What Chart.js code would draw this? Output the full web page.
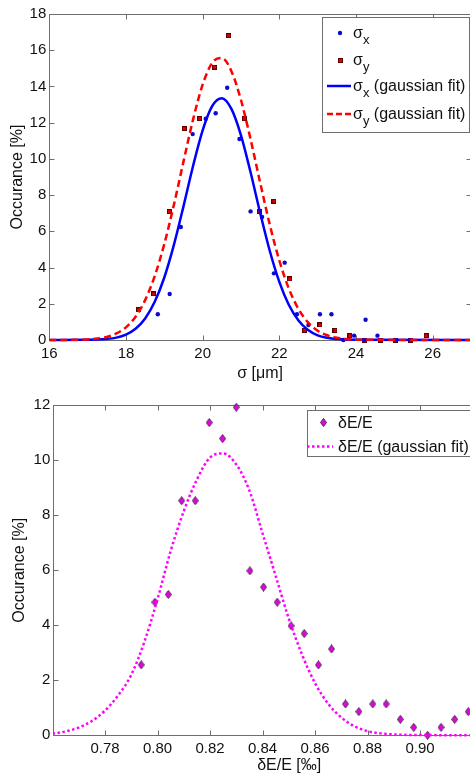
<!DOCTYPE html>
<html lang="fr">
<head>
<meta charset="utf-8">
<title>Distributions σ et δE/E</title>
<script src="https://cdn.jsdelivr.net/npm/chart.js@4.4.1/dist/chart.umd.min.js"></script>
<style>
  html, body { margin: 0; padding: 0; background: #fff; overflow: hidden; }
  #page { position: relative; width: 470px; height: 774px; overflow: hidden; }
  #page canvas { position: absolute; left: 0; }
</style>
</head>
<body>
<div id="page">
  <canvas id="sigmaChart" width="476" height="385" style="top:0"></canvas>
  <canvas id="energieChart" width="530" height="392" style="top:385px"></canvas>
</div>
<script>
// Fichier : index.html
// Distributions des tailles de faisceau (σx, σy) et de la dispersion en énergie δE/E

// --- Graphe du haut : mesures σx ---
const sigmaXPos = [18.83, 19.14, 19.43, 19.74, 20.08, 20.34, 20.64, 20.96, 21.25, 21.55,
                   21.86, 22.14, 22.46, 22.76, 23.06, 23.36, 23.67, 23.95, 24.25, 24.56];
const sigmaXOcc = [1.42, 2.54, 6.24, 11.37, 12.22, 12.52, 13.93, 11.10, 7.10, 6.79,
                   3.68, 4.27, 1.42, 0.83, 1.42, 1.42, 0, 0.24, 1.12, 0.24];

// --- Graphe du haut : mesures σy ---
const sigmaYPos = [18.33, 18.72, 19.13, 19.52, 19.92, 20.31, 20.68, 21.09, 21.48, 21.86,
                   22.27, 22.66, 23.06, 23.45, 23.84, 24.23, 24.63, 25.03, 25.42, 25.83];
const sigmaYOcc = [1.66, 2.54, 7.10, 11.67, 12.22, 15.07, 16.80, 12.22, 7.10, 7.66,
                   3.37, 0.53, 0.83, 0.53, 0.24, 0, 0, 0, 0, 0.24];

// --- Courbes d'ajustement gaussien ---
const fitXPos = [16, 17, 17.5, 17.75, 18, 18.25, 18.5, 18.75, 19, 19.25, 19.5, 19.75, 20, 20.25,
                 20.5, 20.75, 21, 21.25, 21.5, 21.75, 22, 22.25, 22.5, 22.75, 23, 23.25, 23.5, 24, 27];
const fitXOcc = [0, 0.01, 0.06, 0.13, 0.30, 0.62, 1.19, 2.11, 3.45, 5.25, 7.38, 9.61, 11.58, 12.92,
                 13.35, 12.76, 11.30, 9.26, 7.02, 4.93, 3.21, 1.93, 1.08, 0.55, 0.26, 0.12, 0.05, 0.01, 0];

const fitYPos = [16, 17, 17.25, 17.5, 17.75, 18, 18.25, 18.5, 18.75, 19, 19.25, 19.5, 19.75, 20, 20.25,
                 20.5, 20.75, 21, 21.25, 21.5, 21.75, 22, 22.25, 22.5, 22.75, 23, 23.25, 23.5, 23.75, 24, 27];
const fitYOcc = [0, 0.03, 0.08, 0.17, 0.36, 0.70, 1.28, 2.20, 3.53, 5.30, 7.46, 9.85, 12.17, 14.10, 15.31,
                 15.57, 14.84, 13.25, 11.09, 8.69, 6.38, 4.39, 2.83, 1.71, 0.97, 0.51, 0.26, 0.12, 0.05, 0.02, 0];

// --- Graphe du bas : dispersion en énergie ---
const energiePos = [0.7938, 0.7990, 0.8041, 0.8092, 0.8144, 0.8197, 0.8248, 0.8300, 0.8352, 0.8404,
                    0.8456, 0.8509, 0.8559, 0.8613, 0.8663, 0.8716, 0.8767, 0.8820, 0.8871, 0.8925,
                    0.8976, 0.9029, 0.9080, 0.9132, 0.9184];
const energieOcc = [2.56, 4.84, 5.12, 8.53, 8.53, 11.37, 10.79, 11.93, 5.98, 5.39,
                    4.84, 3.98, 3.70, 2.56, 3.14, 1.14, 0.86, 1.14, 1.14, 0.58,
                    0.29, 0, 0.29, 0.58, 0.86];

const fitEPos = [0.76, 0.765, 0.77, 0.775, 0.78, 0.785, 0.79, 0.795, 0.80, 0.805, 0.81, 0.815, 0.82, 0.825,
                 0.83, 0.835, 0.84, 0.845, 0.85, 0.855, 0.86, 0.865, 0.87, 0.875, 0.88, 0.885, 0.89, 0.90, 0.94];
const fitEOcc = [0.06, 0.14, 0.28, 0.52, 0.90, 1.45, 2.20, 3.40, 4.95, 6.70, 8.15, 9.30, 10.10, 10.25,
                 9.85, 8.90, 7.35, 5.80, 4.25, 2.95, 1.90, 1.15, 0.65, 0.33, 0.15, 0.07, 0.03, 0.01, 0];

// --- Graduations ---
const sigmaTicksX = [16, 18, 20, 22, 24, 26];
const sigmaTicksY = [0, 2, 4, 6, 8, 10, 12, 14, 16, 18];
const energieTicksX = [0.78, 0.80, 0.82, 0.84, 0.86, 0.88, 0.90];
const energieTicksY = [0, 2, 4, 6, 8, 10, 12];

const POLICE = '"Liberation Sans", Arial, sans-serif';
const GRIS_AXE = '#6e6e6e';

Chart.defaults.font.family = POLICE;
Chart.defaults.color = '#111';

// Petits marqueurs dessinés à la main (carré rouge, losange magenta)
function creerCarre(taille, fond, bord) {
    const c = document.createElement('canvas');
    c.width = taille; c.height = taille;
    const g = c.getContext('2d');
    g.fillStyle = bord;
    g.fillRect(0, 0, taille, taille);
    g.fillStyle = fond;
    g.fillRect(1, 1, taille - 2, taille - 2);
    return c;
}

function creerLosange(l, h, fond, bord) {
    const c = document.createElement('canvas');
    c.width = l; c.height = h;
    const g = c.getContext('2d');
    g.beginPath();
    g.moveTo(l / 2, 0.5);
    g.lineTo(l - 0.5, h / 2);
    g.lineTo(l / 2, h - 0.5);
    g.lineTo(0.5, h / 2);
    g.closePath();
    g.fillStyle = fond;
    g.fill();
    g.strokeStyle = bord;
    g.lineWidth = 1;
    g.stroke();
    return c;
}

const carreRouge = creerCarre(5, '#e00000', '#5a0000');
const losangeMagenta = creerLosange(7, 9, '#e600e6', '#4a2a4a');

function points(xs, ys) {
    return xs.map((x, i) => ({ x: x, y: ys[i] }));
}

// Cadre façon MATLAB avec graduations vers l'intérieur sur les 4 côtés
const cadreAxes = {
    id: 'cadreAxes',
    beforeDatasetsDraw(chart) {
        const { ctx, chartArea: a, scales } = chart;
        const l = Math.round(a.left) + 0.5, r = Math.round(a.right) + 0.5;
        const t = Math.round(a.top) + 0.5, b = Math.round(a.bottom) + 0.5;
        ctx.save();
        ctx.strokeStyle = GRIS_AXE;
        ctx.lineWidth = 1;
        ctx.strokeRect(l, t, r - l, b - t);
        ctx.beginPath();
        scales.x.ticks.forEach(tk => {
            const px = Math.round(scales.x.getPixelForValue(tk.value)) + 0.5;
            ctx.moveTo(px, b); ctx.lineTo(px, b - 5);
            ctx.moveTo(px, t); ctx.lineTo(px, t + 5);
        });
        scales.y.ticks.forEach(tk => {
            const py = Math.round(scales.y.getPixelForValue(tk.value)) + 0.5;
            ctx.moveTo(l, py); ctx.lineTo(l + 5, py);
            ctx.moveTo(r, py); ctx.lineTo(r - 5, py);
        });
        ctx.stroke();
        ctx.restore();
    }
};

// Légende encadrée avec indices (σx, σy)
const legendeMatlab = {
    id: 'legendeMatlab',
    afterDatasetsDraw(chart, args, opts) {
        if (!opts.cadre) return;
        const ctx = chart.ctx;
        const c = opts.cadre;
        ctx.save();
        ctx.fillStyle = '#fff';
        ctx.fillRect(c.x, c.y, c.w, c.h);
        ctx.strokeStyle = GRIS_AXE;
        ctx.lineWidth = 1;
        ctx.strokeRect(c.x + 0.5, c.y + 0.5, c.w, c.h);

        opts.entrees.forEach(e => {
            if (e.image) {
                ctx.drawImage(e.image, Math.round(opts.xMarqueur - e.image.width / 2), Math.round(e.y - e.image.height / 2));
            } else if (e.rond) {
                ctx.fillStyle = e.couleur;
                ctx.beginPath();
                ctx.arc(opts.xMarqueur, e.y, 2.2, 0, Math.PI * 2);
                ctx.fill();
            } else {
                ctx.strokeStyle = e.couleur;
                ctx.lineWidth = 2.5;
                ctx.setLineDash(e.tirets || []);
                ctx.beginPath();
                ctx.moveTo(opts.xLigne[0], e.y);
                ctx.lineTo(opts.xLigne[1], e.y);
                ctx.stroke();
                ctx.setLineDash([]);
            }

            let x = opts.xTexte;
            const base = e.y + opts.decalage;
            ctx.fillStyle = '#111';
            ctx.textAlign = 'left';
            ctx.textBaseline = 'alphabetic';
            ctx.font = '16px ' + POLICE;
            ctx.fillText(e.texte, x, base);
            x += ctx.measureText(e.texte).width;
            if (e.indice) {
                ctx.font = '13px ' + POLICE;
                ctx.fillText(e.indice, x, base + 6);
                x += ctx.measureText(e.indice).width;
            }
            if (e.suite) {
                ctx.font = '16px ' + POLICE;
                ctx.fillText(e.suite, x, base);
            }
        });
        ctx.restore();
    }
};

function axeX(min, max, graduations, titre, hauteur, format) {
    return {
        type: 'linear', min: min, max: max,
        afterBuildTicks: s => { s.ticks = graduations.map(v => ({ value: v })); },
        afterFit: s => { s.height = hauteur; },
        grid: { display: false, drawTicks: false },
        border: { display: false },
        ticks: { autoSkip: false, maxRotation: 0, padding: 5, font: { size: 15 }, color: '#111',
                 callback: format },
        title: { display: true, text: titre, font: { size: 16 }, color: '#111', padding: { top: 0, bottom: 2 } }
    };
}

function axeY(max, graduations, largeur, padTitre) {
    return {
        type: 'linear', min: 0, max: max,
        afterBuildTicks: s => { s.ticks = graduations.map(v => ({ value: v })); },
        afterFit: s => { s.width = largeur; },
        grid: { display: false, drawTicks: false },
        border: { display: false },
        ticks: { autoSkip: false, padding: 3, font: { size: 15 }, color: '#111' },
        title: { display: true, text: 'Occurance [%]', font: { size: 16 }, color: '#111',
                 padding: { top: padTitre, bottom: 0 } }
    };
}

function createSigmaChart() {
    const canvas = document.getElementById('sigmaChart');
    return new Chart(canvas, {
        type: 'scatter',
        data: {
            datasets: [
                { label: 'σx', data: points(sigmaXPos, sigmaXOcc), pointStyle: 'circle', pointRadius: 2.2,
                  backgroundColor: '#0a0acc', borderWidth: 0, order: 4, clip: { left: 0, top: 0, right: 0, bottom: 6 } },
                { label: 'σy', data: points(sigmaYPos, sigmaYOcc), pointStyle: carreRouge, pointRadius: 3,
                  order: 3, clip: { left: 0, top: 0, right: 0, bottom: 6 } },
                { type: 'line', label: 'σx (gaussian fit)', data: points(fitXPos, fitXOcc), borderColor: '#0000ff',
                  borderWidth: 2.5, pointRadius: 0, cubicInterpolationMode: 'monotone', fill: false, order: 2,
                  clip: { left: 0, top: 0, right: 0, bottom: 3 } },
                { type: 'line', label: 'σy (gaussian fit)', data: points(fitYPos, fitYOcc), borderColor: '#ff0000',
                  borderWidth: 2.5, borderDash: [7, 4], pointRadius: 0, cubicInterpolationMode: 'monotone', fill: false,
                  order: 1, clip: { left: 0, top: 0, right: 0, bottom: 3 } }
            ]
        },
        options: {
            responsive: false,
            animation: false,
            events: [],
            layout: { padding: { top: 14, right: 3.4, left: 0.3, bottom: 0 } },
            scales: {
                x: axeX(16, 27, sigmaTicksX, 'σ [μm]', 45),
                y: axeY(18, sigmaTicksY, 49, 8)
            },
            plugins: {
                legend: { display: false },
                tooltip: { enabled: false },
                legendeMatlab: {
                    cadre: { x: 322, y: 17, w: 147, h: 115 },
                    xMarqueur: 340, xLigne: [327, 351], xTexte: 353, decalage: 4.5,
                    entrees: [
                        { y: 33, rond: true, couleur: '#0a0acc', texte: 'σ', indice: 'x' },
                        { y: 60.5, image: carreRouge, texte: 'σ', indice: 'y' },
                        { y: 86, couleur: '#0000ff', texte: 'σ', indice: 'x', suite: ' (gaussian fit)' },
                        { y: 114, couleur: '#ff0000', tirets: [6, 3], texte: 'σ', indice: 'y', suite: ' (gaussian fit)' }
                    ]
                }
            }
        },
        plugins: [cadreAxes, legendeMatlab]
    });
}

function createEnergieChart() {
    const canvas = document.getElementById('energieChart');
    return new Chart(canvas, {
        type: 'scatter',
        data: {
            datasets: [
                { label: 'δE/E', data: points(energiePos, energieOcc), pointStyle: losangeMagenta, pointRadius: 4,
                  order: 2, clip: { left: 0, top: 6, right: 0, bottom: 6 } },
                { type: 'line', label: 'δE/E (gaussian fit)', data: points(fitEPos, fitEOcc), borderColor: '#ff00ff',
                  borderWidth: 2.5, borderDash: [2.5, 2.5], pointRadius: 0, cubicInterpolationMode: 'monotone',
                  fill: false, order: 1, clip: { left: 0, top: 0, right: 0, bottom: 3 } }
            ]
        },
        options: {
            responsive: false,
            animation: false,
            events: [],
            layout: { padding: { top: 20.3, right: 3.4, left: 0.3, bottom: 0 } },
            scales: {
                x: axeX(0.7603, 0.94, energieTicksX, 'δE/E [‰]', 41.7, v => v.toFixed(2)),
                y: axeY(12, energieTicksY, 53, 10)
            },
            plugins: {
                legend: { display: false },
                tooltip: { enabled: false },
                legendeMatlab: {
                    cadre: { x: 307, y: 25, w: 215, h: 46 },
                    xMarqueur: 323, xLigne: [307, 333], xTexte: 338, decalage: 5.5,
                    entrees: [
                        { y: 37, image: losangeMagenta, texte: 'δE/E' },
                        { y: 61.5, couleur: '#ff00ff', tirets: [2.5, 2.5], texte: 'δE/E (gaussian fit)' }
                    ]
                }
            }
        },
        plugins: [cadreAxes, legendeMatlab]
    });
}

window.grapheSigma = createSigmaChart();
window.grapheEnergie = createEnergieChart();
console.log('✅ Graphes créés');
</script>
</body>
</html>
